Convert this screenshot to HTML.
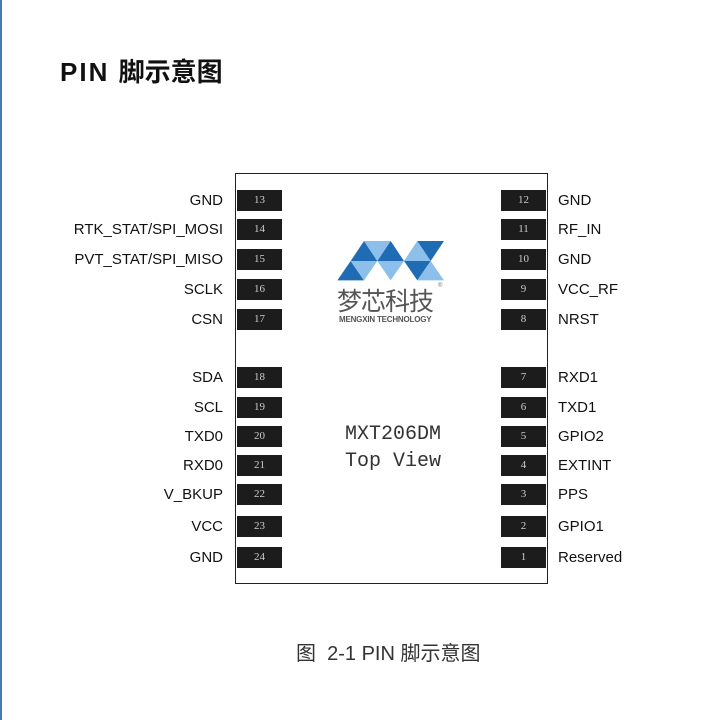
<!DOCTYPE html>
<html><head><meta charset="utf-8"><style>
body{margin:0;width:720px;height:720px;background:#fff;position:relative;overflow:hidden;font-family:"Liberation Sans","Noto Sans CJK SC",sans-serif;}
.t{position:absolute;font-size:15px;color:#111;line-height:16px;}
.l{right:497px;text-align:right;}
.r{left:558px;}
.p{position:absolute;width:45px;height:21px;background:#1c1c1c;color:#ccc;font-family:"Liberation Serif",serif;font-size:11px;text-align:center;line-height:21px;}
</style></head><body>
<div style="position:absolute;left:0;top:0;width:2px;height:720px;background:#4a78b0"></div>
<div style="position:absolute;left:60px;top:52px;font-size:26px;font-weight:bold;color:#111;letter-spacing:2px;font-family:'Liberation Sans','Noto Sans CJK SC',sans-serif">PIN <span style="letter-spacing:0">脚示意图</span></div>
<div style="position:absolute;left:235px;top:173px;width:311px;height:409px;border:1.5px solid #222"></div>

<div class="p" style="left:237px;top:190px">13</div>
<div class="p" style="left:237px;top:219px">14</div>
<div class="p" style="left:237px;top:249px">15</div>
<div class="p" style="left:237px;top:279px">16</div>
<div class="p" style="left:237px;top:309px">17</div>
<div class="p" style="left:237px;top:367px">18</div>
<div class="p" style="left:237px;top:397px">19</div>
<div class="p" style="left:237px;top:426px">20</div>
<div class="p" style="left:237px;top:455px">21</div>
<div class="p" style="left:237px;top:484px">22</div>
<div class="p" style="left:237px;top:516px">23</div>
<div class="p" style="left:237px;top:547px">24</div>

<div class="p" style="left:501px;top:190px">12</div>
<div class="p" style="left:501px;top:219px">11</div>
<div class="p" style="left:501px;top:249px">10</div>
<div class="p" style="left:501px;top:279px">9</div>
<div class="p" style="left:501px;top:309px">8</div>
<div class="p" style="left:501px;top:367px">7</div>
<div class="p" style="left:501px;top:397px">6</div>
<div class="p" style="left:501px;top:426px">5</div>
<div class="p" style="left:501px;top:455px">4</div>
<div class="p" style="left:501px;top:484px">3</div>
<div class="p" style="left:501px;top:516px">2</div>
<div class="p" style="left:501px;top:547px">1</div>

<div class="t l" style="top:193px">GND</div>
<div class="t l" style="top:222px">RTK_STAT/SPI_MOSI</div>
<div class="t l" style="top:252px">PVT_STAT/SPI_MISO</div>
<div class="t l" style="top:282px">SCLK</div>
<div class="t l" style="top:312px">CSN</div>
<div class="t l" style="top:370px">SDA</div>
<div class="t l" style="top:400px">SCL</div>
<div class="t l" style="top:429px">TXD0</div>
<div class="t l" style="top:458px">RXD0</div>
<div class="t l" style="top:487px">V_BKUP</div>
<div class="t l" style="top:519px">VCC</div>
<div class="t l" style="top:550px">GND</div>

<div class="t r" style="top:193px">GND</div>
<div class="t r" style="top:222px">RF_IN</div>
<div class="t r" style="top:252px">GND</div>
<div class="t r" style="top:282px">VCC_RF</div>
<div class="t r" style="top:312px">NRST</div>
<div class="t r" style="top:370px">RXD1</div>
<div class="t r" style="top:400px">TXD1</div>
<div class="t r" style="top:429px">GPIO2</div>
<div class="t r" style="top:458px">EXTINT</div>
<div class="t r" style="top:487px">PPS</div>
<div class="t r" style="top:519px">GPIO1</div>
<div class="t r" style="top:550px">Reserved</div>

<svg style="position:absolute;left:0;top:0" width="720" height="720">
<g transform="translate(334,236) scale(0.3333)">
<polygon points="50,75 90,15 130,75" fill="#1f6cb5"/>
<polygon points="90,15 170,15 130,75" fill="#8cc0ea"/>
<polygon points="130,75 170,15 210,75" fill="#1f6cb5"/>
<polygon points="210,75 250,15 290,75" fill="#8cc0ea"/>
<polygon points="250,15 330,15 290,75" fill="#1f6cb5"/>
<polygon points="10,133 50,75 90,133" fill="#1f6cb5"/>
<polygon points="50,75 130,75 90,133" fill="#8cc0ea"/>
<polygon points="130,75 210,75 170,133" fill="#8cc0ea"/>
<polygon points="210,75 290,75 250,133" fill="#1f6cb5"/>
<polygon points="250,133 290,75 330,133" fill="#8cc0ea"/>
</g>
</svg>
<div style="position:absolute;left:337px;top:286px;font-size:25px;color:#555;letter-spacing:-1px;font-family:'Noto Sans CJK SC',sans-serif;line-height:28px">梦芯科技</div>
<div style="position:absolute;left:438px;top:283px;font-size:6px;color:#777">®</div>
<div style="position:absolute;left:339px;top:315px;font-size:8px;font-weight:bold;color:#555;letter-spacing:-0.2px">MENGXIN TECHNOLOGY</div>

<div style="position:absolute;left:345px;top:424px;font-family:'Liberation Mono',monospace;font-size:20px;color:#333;line-height:22px">MXT206DM</div>
<div style="position:absolute;left:345px;top:451px;font-family:'Liberation Mono',monospace;font-size:20px;color:#333;line-height:22px">Top View</div>

<div style="position:absolute;left:296px;top:642px;font-size:20px;color:#333;line-height:24px">图&nbsp; 2-1 PIN 脚示意图</div>
</body></html>
